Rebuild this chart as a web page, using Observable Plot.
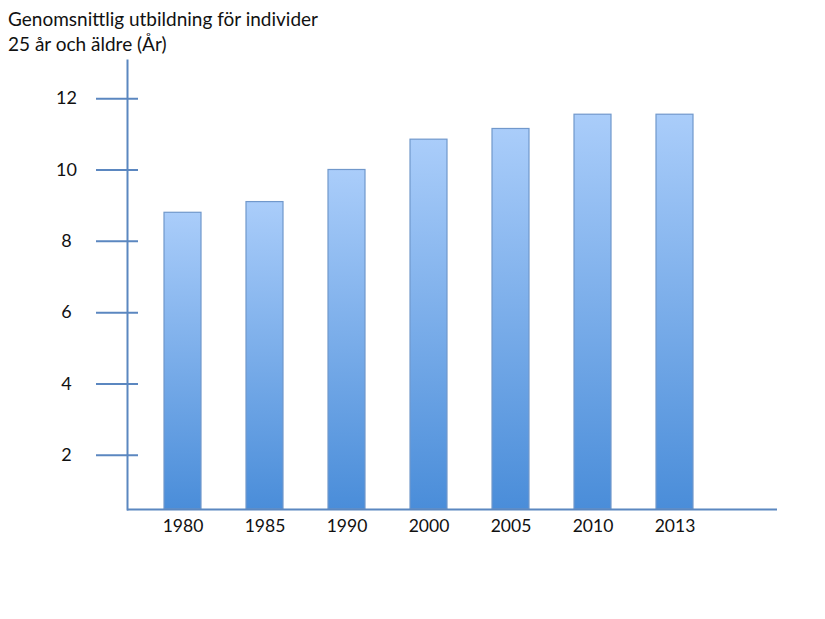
<!DOCTYPE html>
<html>
<head>
<meta charset="utf-8">
<script src="https://cdn.jsdelivr.net/npm/d3@7"></script>
<script src="https://cdn.jsdelivr.net/npm/@observablehq/plot@0.6"></script>
<style>
  html, body { margin: 0; padding: 0; background: #fff; }
  #wrap { position: relative; width: 825px; height: 619px; }
  #title { position: absolute; left: 8px; top: 6px; font-family: Lato, "Open Sans", sans-serif; font-size: 19px; line-height: 25px; color: #111; }
  #chart { position: absolute; left: 0; top: 0; }
</style>
</head>
<body>
<div id="wrap">
  <div id="chart"></div>
  <div id="title">Genomsnittlig utbildning för individer<br>25 år och äldre (År)</div>
</div>
<script>
const years = ["1980", "1985", "1990", "2000", "2005", "2010", "2013"];
const values = [8.8, 9.1, 10.0, 10.85, 11.15, 11.55, 11.55];
const yTicks = [2, 4, 6, 8, 10, 12];
const yMin = 0.48, yMax = 13.07;

const data = years.map((year, i) => ({year, value: values[i]}));

const W = 825, H = 619;
const mL = 127, mR = 48, mT = 60, mB = 110;
const plotW = W - mL - mR;
const axisColor = "#5b87c0";
const tickOut = 31, tickIn = 11;

const gradientDefs = () => {
  const ns = "http://www.w3.org/2000/svg";
  const defs = document.createElementNS(ns, "defs");
  const g = document.createElementNS(ns, "linearGradient");
  g.setAttribute("id", "barGrad");
  g.setAttribute("x1", "0"); g.setAttribute("y1", "0");
  g.setAttribute("x2", "0"); g.setAttribute("y2", "1");
  [["0%", "#aacdfa"], ["100%", "#4a8dd9"]].forEach(([o, c]) => {
    const s = document.createElementNS(ns, "stop");
    s.setAttribute("offset", o);
    s.setAttribute("stop-color", c);
    g.appendChild(s);
  });
  defs.appendChild(g);
  return defs;
};

const chart = Plot.plot({
  width: W,
  height: H,
  marginLeft: mL,
  marginRight: mR,
  marginTop: mT,
  marginBottom: mB,
  style: {fontFamily: "Lato, 'Open Sans', sans-serif", fontSize: "17px", color: "#111", background: "#fff"},
  x: {domain: years, range: [141, 715], paddingInner: 0.55, paddingOuter: 0.275, label: null},
  y: {domain: [yMin, yMax], label: null},
  marks: [
    gradientDefs,
    Plot.barY(data, {x: "year", y1: yMin, y2: "value", fill: "url(#barGrad)", stroke: "#7198cb", strokeWidth: 1.2}),
    Plot.ruleY(yTicks, {y: d => d, stroke: axisColor, strokeWidth: 2, dx: -tickOut, insetRight: plotW - tickOut - tickIn}),
    Plot.ruleY([yMin], {stroke: axisColor, strokeWidth: 2}),
    Plot.frame({anchor: "left", stroke: axisColor, strokeWidth: 2, strokeOpacity: 1}),
    Plot.axisY({ticks: yTicks, tickSize: 0, tickPadding: 61, textAnchor: "middle", fontSize: 18, tickFormat: d => d}),
    Plot.axisX({tickSize: 0, tickPadding: 10, fontSize: 17.5})
  ]
});
document.getElementById("chart").appendChild(chart);
</script>
</body>
</html>
